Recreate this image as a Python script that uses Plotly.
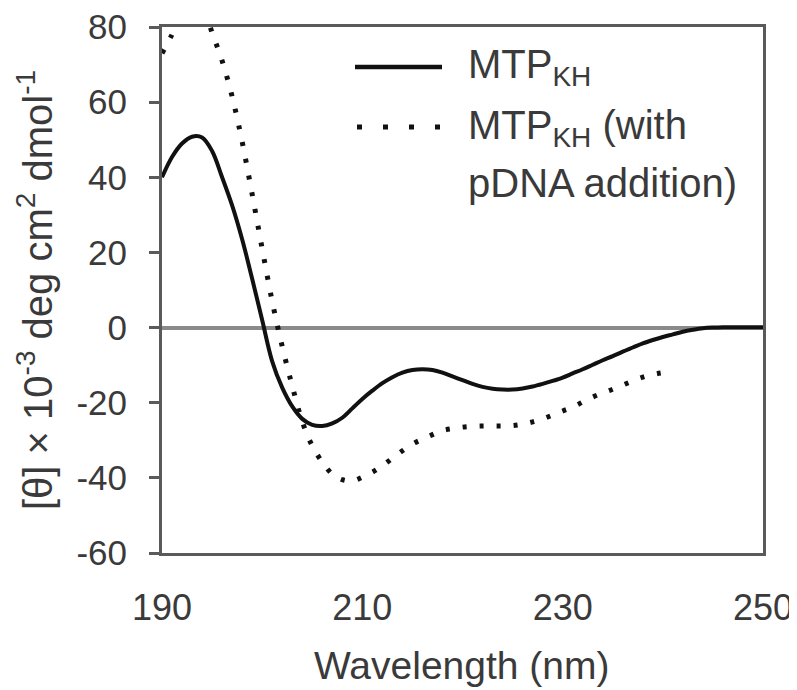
import plotly.graph_objects as go

# Wavelength (nm)
wl_kh = list(range(190, 251))
# MTP_KH mean residue ellipticity ([θ] × 10^-3 deg cm2 dmol-1)
theta_kh = [40, 45.4, 49, 50.8, 50.6, 47, 40, 32.5, 23.5, 13, 2, -9, -16, -21, -24.3, -25.9, -26.2,
            -25.5, -24, -21.5, -19, -16.8, -14.8, -13.2, -12, -11.3, -11.1, -11.3, -12, -13, -14,
            -15, -15.8, -16.3, -16.5, -16.5, -16.2, -15.7, -15, -14.2, -13.3, -12.2, -11.1, -9.9,
            -8.7, -7.6, -6.4, -5.3, -4.2, -3.3, -2.5, -1.8, -1.1, -0.6, -0.2, 0, 0.1, 0.1, 0.1, 0.1, 0.1]

wl_dna = list(range(190, 241))
# MTP_KH with pDNA addition
theta_dna = [73, 78, 84, 88, 86, 78.5, 71, 61.5, 49.5, 35.5, 21, 7, -5, -15.5, -25, -31.5, -35.8, -39,
             -40.5, -40.8, -39.8, -38.5, -36.8, -34.8, -32.8, -31, -29.7, -28.5, -27.4, -26.9,
             -26.5, -26.3, -26.2, -26.2, -26.2, -26.1, -25.7, -25.1, -24.3, -23.3, -22.2, -21.2,
             -19.8, -18.5, -17.4, -16.4, -15.3, -14.2, -13.2, -12.5, -12]

x_ticks = [190, 210, 230, 250]
y_ticks = [80, 60, 40, 20, 0, -20, -40, -60]

series_names = ["MTP<sub>KH</sub>", "MTP<sub>KH</sub> (with", "pDNA addition)"]

FONT = "Liberation Sans, Arial, sans-serif"
TXT = "#3a3a3a"
AX = "#5a5a5a"

fig = go.Figure()
fig.add_trace(go.Scatter(x=wl_kh, y=theta_kh, mode="lines",
                         line=dict(color="#111111", width=4, shape="spline", smoothing=1.0), showlegend=False))
fig.add_trace(go.Scatter(x=wl_dna, y=theta_dna, mode="lines",
                         line=dict(color="#111111", width=5, dash="4px,13px", shape="spline", smoothing=1.0),
                         showlegend=False))

# figure is rendered inside a page with an 8px body margin -> work in window pixels, offset by 8
OFF = 8
W, H = 797, 690
pl, pr, pt, pb = 162, 763, 27, 553          # plot box in window pixels
L, T = pl - OFF, pt - OFF
R, B = W - (pr - OFF), H - (pb - OFF)
pw, ph = pr - pl, pb - pt


def px(xw):
    return (xw - pl) / pw


def py(yw):
    return (pb - yw) / ph


fig.update_layout(
    width=W, height=H,
    margin=dict(l=L, r=R, t=T, b=B, autoexpand=False),
    paper_bgcolor="white", plot_bgcolor="white",
    font=dict(family=FONT, color=TXT, size=35),
    showlegend=False,
)
fig.update_xaxes(range=[190, 250], tickvals=x_ticks, ticktext=[str(v) for v in x_ticks], ticks="",
                 showline=True, linecolor=AX, linewidth=3, mirror=True, showgrid=False, zeroline=False,
                 tickfont=dict(size=36, color=TXT, family=FONT), ticklabelstandoff=21,
                 ticklabeloverflow="allow", automargin=False)
fig.update_yaxes(range=[-60, 80], tickvals=y_ticks, ticktext=[str(v) for v in y_ticks], ticks="outside",
                 ticklen=10, tickwidth=3, tickcolor=AX,
                 showline=True, linecolor=AX, linewidth=3, mirror=True, showgrid=False,
                 zeroline=True, zerolinecolor="#8a8a8a", zerolinewidth=3.5,
                 tickfont=dict(size=35, color=TXT, family=FONT), ticklabelstandoff=15,
                 ticklabeloverflow="allow", automargin=False)

# axis titles
fig.add_annotation(text="Wavelength (nm)", xref="paper", yref="paper", x=px(462), y=py(665),
                   xanchor="center", yanchor="middle", showarrow=False, font=dict(size=39, color=TXT, family=FONT))
fig.add_annotation(text="[θ] × 10<sup>-3</sup> deg cm<sup>2</sup> dmol<sup>-1</sup>", xref="paper", yref="paper",
                   x=px(35), y=py(290), textangle=-90, xanchor="center", yanchor="middle", showarrow=False,
                   font=dict(size=40, color=TXT, family=FONT))

# legend
fig.add_shape(type="line", xref="paper", yref="paper", x0=px(355), x1=px(442), y0=py(67), y1=py(67),
              line=dict(color="#111111", width=4.5))
fig.add_shape(type="line", xref="paper", yref="paper", x0=px(357), x1=px(444), y0=py(127), y1=py(127),
              line=dict(color="#111111", width=5, dash="5px,21px"))
fig.add_annotation(text=series_names[0], xref="paper", yref="paper", x=px(466), y=py(67), xanchor="left",
                   yanchor="middle", showarrow=False, font=dict(size=40, color=TXT, family=FONT))
fig.add_annotation(text=series_names[1], xref="paper", yref="paper", x=px(466), y=py(128), xanchor="left",
                   yanchor="middle", showarrow=False, font=dict(size=40, color=TXT, family=FONT))
fig.add_annotation(text=series_names[2], xref="paper", yref="paper", x=px(466), y=py(183), xanchor="left",
                   yanchor="middle", showarrow=False, font=dict(size=40, color=TXT, family=FONT))

fig.write_html("out.html")
